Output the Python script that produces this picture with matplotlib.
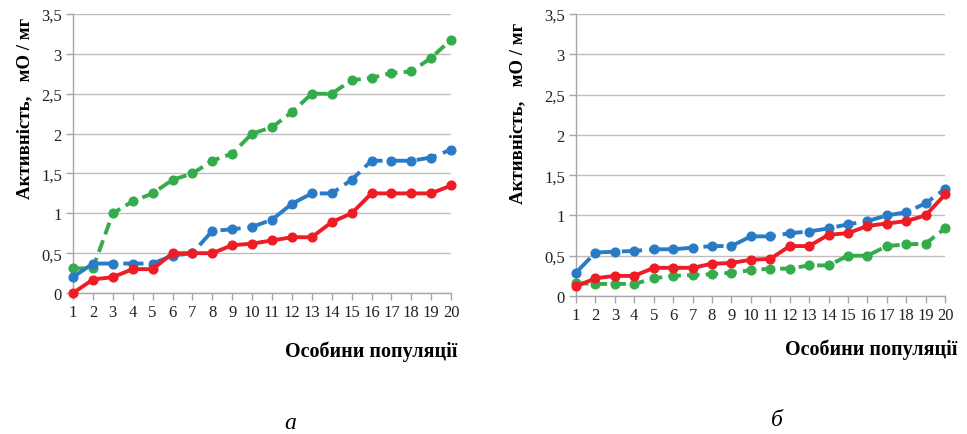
import matplotlib
matplotlib.use("Agg")
import matplotlib.pyplot as plt
from matplotlib.ticker import FuncFormatter

x = list(range(1, 21))
xticklabels = [str(i) for i in x]
yticks = [0, 0.5, 1, 1.5, 2, 2.5, 3, 3.5]

a_green = [0.31, 0.31, 1.0, 1.15, 1.25, 1.42, 1.5, 1.66, 1.75, 2.0, 2.08, 2.27, 2.5, 2.5, 2.67, 2.7, 2.76, 2.78, 2.95, 3.18]
a_blue = [0.2, 0.37, 0.37, 0.37, 0.37, 0.47, 0.5, 0.78, 0.8, 0.83, 0.92, 1.12, 1.25, 1.25, 1.42, 1.66, 1.66, 1.66, 1.7, 1.8]
a_red = [0.0, 0.17, 0.2, 0.3, 0.3, 0.5, 0.5, 0.5, 0.6, 0.62, 0.66, 0.7, 0.7, 0.89, 1.0, 1.25, 1.25, 1.25, 1.25, 1.35]

b_blue = [0.29, 0.54, 0.55, 0.56, 0.58, 0.58, 0.6, 0.62, 0.62, 0.74, 0.74, 0.78, 0.8, 0.84, 0.89, 0.93, 1.0, 1.04, 1.15, 1.33]
b_red = [0.12, 0.22, 0.25, 0.25, 0.35, 0.35, 0.35, 0.4, 0.41, 0.45, 0.46, 0.62, 0.62, 0.76, 0.78, 0.87, 0.9, 0.93, 1.0, 1.26]
b_green = [0.16, 0.15, 0.15, 0.15, 0.22, 0.25, 0.26, 0.27, 0.29, 0.32, 0.34, 0.34, 0.38, 0.38, 0.5, 0.5, 0.62, 0.64, 0.65, 0.84]

ylabel = "Активність,   мО / мг"
xlabel = "Особини популяції"

GREEN = "#35AC4C"
BLUE = "#2A7BC6"
RED = "#EE1C24"
GRID = "#BDBDBD"

plt.rcParams['font.family'] = ['Liberation Serif', 'DejaVu Serif']

fig = plt.figure(figsize=(9.67, 4.35), dpi=100)

def draw(ax, green, blue, red):
    ax.plot(x, green, color=GREEN, lw=2.8, dashes=(3.2, 1.6), marker='o', ms=6.3, clip_on=False, zorder=3)
    ax.plot(x, blue, color=BLUE, lw=2.8, dashes=(5.2, 1.8), marker='o', ms=6.3, clip_on=False, zorder=4)
    ax.plot(x, red, color=RED, lw=2.8, marker='o', ms=6.3, clip_on=False, zorder=5)
    ax.set_xlim(1, 20)
    ax.set_ylim(0, 3.5)
    ax.set_xticks(x)
    ax.set_xticklabels(xticklabels)
    ax.set_yticks(yticks)
    ax.yaxis.set_major_formatter(FuncFormatter(lambda v, p: ('%g' % v).replace('.', ',')))
    ax.grid(axis='y', color=GRID, lw=1.0)
    ax.set_axisbelow(True)
    for s in ['top', 'right']:
        ax.spines[s].set_visible(False)
    for s in ['left', 'bottom']:
        ax.spines[s].set_color('#A6A6A6')
        ax.spines[s].set_linewidth(1.0)
    ax.tick_params(axis='both', colors='#A6A6A6', labelcolor='#222222', labelsize=12, length=5, width=1)
    ax.tick_params(axis='x', pad=3)
    ax.tick_params(axis='y', pad=3)

ax1 = fig.add_axes([0.0755, 0.324, 0.391, 0.6414])
draw(ax1, a_green, a_blue, a_red)
ax2 = fig.add_axes([0.5957, 0.3172, 0.3816, 0.6483])
draw(ax2, b_green, b_blue, b_red)

fig.text(25/967, 1-108/435, ylabel, rotation=90, ha='center', va='center', fontsize=13.6, fontweight='bold')
fig.text(518/967, 1-113/435, ylabel, rotation=90, ha='center', va='center', fontsize=13.6, fontweight='bold')
fig.text(457/967, 1-352/435, xlabel, ha='right', va='center', fontsize=14.5, fontweight='bold')
fig.text(957/967, 1-350/435, xlabel, ha='right', va='center', fontsize=14.5, fontweight='bold')
fig.text(290/967, 1-424/435, "а", ha='center', va='center', fontsize=17, style='italic')
fig.text(777/967, 1-421/435, "б", ha='center', va='center', fontsize=17, style='italic')

fig.savefig("out.png", dpi=100, facecolor='white')
